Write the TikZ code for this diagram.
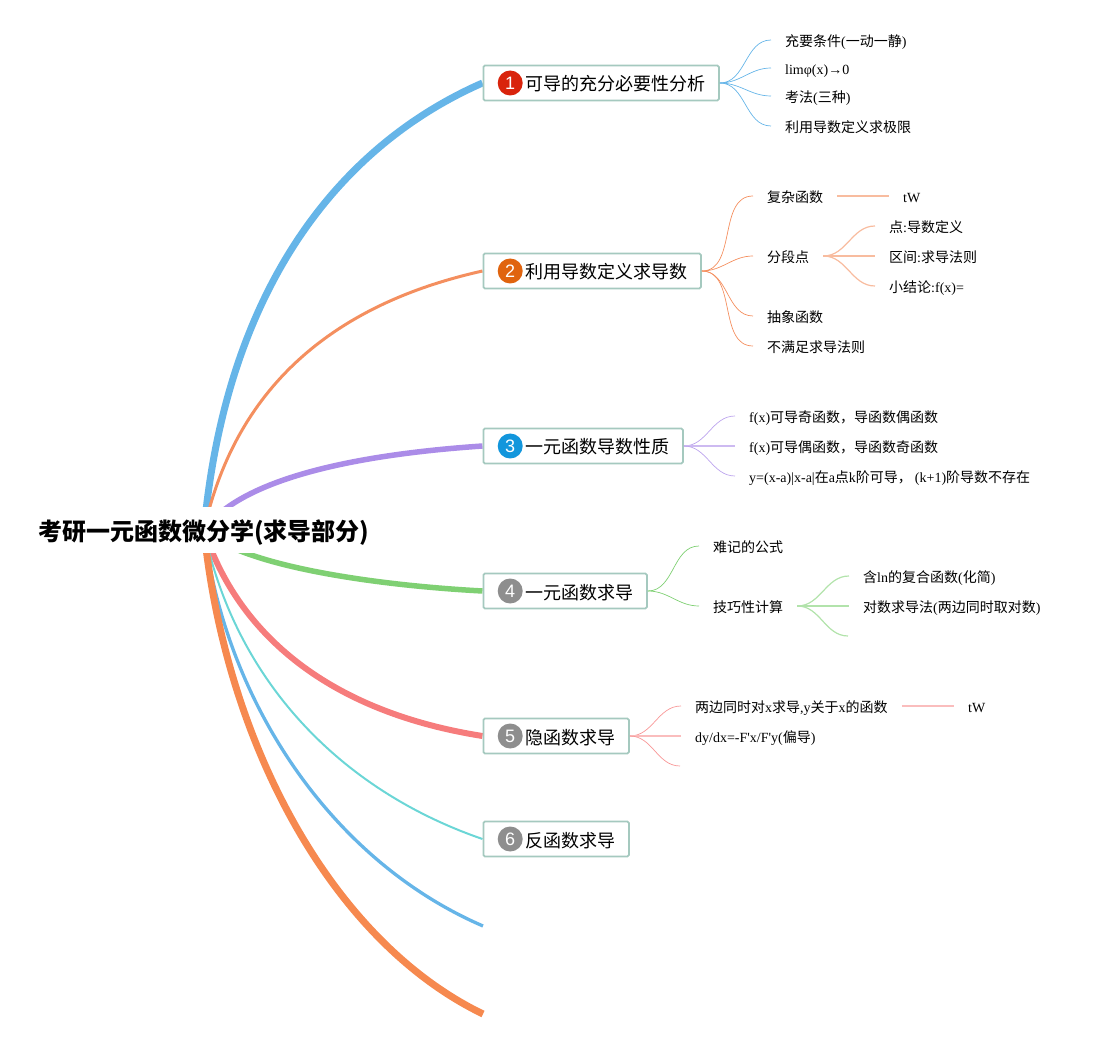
\documentclass[tikz,border=0pt]{standalone}
\usepackage{fontspec}
\setmainfont{Noto Sans CJK SC}
\newfontfamily\tms{Liberation Serif}
\newfontfamily\hei{Liberation Sans}
\newcommand{\tm}[1]{{\tms #1}}
\usetikzlibrary{positioning,backgrounds}
\definecolor{boxline}{HTML}{A5C9BF}
\definecolor{cblue}{HTML}{66B5E8}
\definecolor{corange}{HTML}{F48F5F}
\definecolor{cdeep}{HTML}{F6894F}
\definecolor{cpurple}{HTML}{AB8CE8}
\definecolor{cgreen}{HTML}{7FD073}
\definecolor{cred}{HTML}{F67C7C}
\definecolor{cteal}{HTML}{6BD6D6}
\definecolor{bred}{HTML}{D9240C}
\definecolor{borange}{HTML}{E0640F}
\definecolor{bblue}{HTML}{1296DC}
\definecolor{bgray}{HTML}{8E8E8E}
\begin{document}
\begin{tikzpicture}[x=1pt,y=-1pt,
    root node/.style={fill=white,inner sep=0pt,minimum width=330pt,minimum height=45pt,text height=24pt,text depth=4pt,font=\fontsize{24}{28}\selectfont\bfseries},
    main node/.style={draw=boxline,line width=1.8pt,rounded corners=1.5pt,fill=white,anchor=west,inner sep=0pt,minimum height=35pt,text height=18pt,text depth=2pt,font=\fontsize{18}{22}\selectfont},
    badge/.style={circle,inner sep=0pt,minimum size=25pt,anchor=west,text=white,font=\hei\fontsize{18}{20}\selectfont},
    small node/.style={anchor=west,inner xsep=14pt,inner ysep=2pt,text height=15pt,text depth=2pt,font=\fontsize{14}{16}\selectfont}]
    \useasboundingbox (0,0) rectangle (1101,1040);

    \node[root node] (root) at (204,530) {考研一元函数微分学(求导部分)};

    \node[main node] (n1) at (482.5,83) {\kern42.5pt可导的充分必要性分析\kern13pt};
    \node[main node] (n2) at (482.5,271) {\kern42.5pt利用导数定义求导数\kern13pt};
    \node[main node] (n3) at (482.5,446) {\kern42.5pt一元函数导数性质\kern13pt};
    \node[main node] (n4) at (482.5,591) {\kern42.5pt一元函数求导\kern13pt};
    \node[main node] (n5) at (482.5,736) {\kern42.5pt隐函数求导\kern13pt};
    \node[main node] (n6) at (482.5,839) {\kern42.5pt反函数求导\kern13pt};
    \coordinate (n7) at (483,926);
    \coordinate (n8) at (483,1014);

    \node[badge,fill=bred,right=15pt of n1.west] (b1) {1};
    \node[badge,fill=borange,right=15pt of n2.west] (b2) {2};
    \node[badge,fill=bblue,right=15pt of n3.west] (b3) {3};
    \node[badge,fill=bgray,right=15pt of n4.west] (b4) {4};
    \node[badge,fill=bgray,right=15pt of n5.west] (b5) {5};
    \node[badge,fill=bgray,right=15pt of n6.west] (b6) {6};

    \begin{scope}[on background layer]
      \draw[cblue,line width=7pt] (root.center) .. controls (225,300) and (330,150) .. (n1.west);
      \draw[corange,line width=3pt] (root.center) .. controls (235,390) and (330,305) .. (n2.west);
      \draw[cpurple,line width=5.5pt] (root.center) .. controls (240,480) and (350,455) .. (n3.west);
      \draw[cgreen,line width=5.5pt] (root.center) .. controls (240,565) and (370,585) .. (n4.west);
      \draw[cred,line width=6pt] (root.center) .. controls (238,635) and (330,712) .. (n5.west);
      \draw[cteal,line width=2pt] (root.center) .. controls (235,680) and (340,790) .. (n6.west);
      \draw[cblue,line width=3.3pt] (root.center) .. controls (225,700) and (330,860) .. (n7);
      \draw[cdeep,line width=7pt] (root.center) .. controls (225,740) and (330,940) .. (n8);
    \end{scope}

    % first branch
    \node[small node] (a1) at (771,40) {充要条件\tm{(}一动一静\tm{)}};
    \node[small node] (a2) at (771,68) {\tm{limφ(x)\raisebox{-0.5pt}{\fontsize{14}{14}\selectfont →}0}};
    \node[small node] (a3) at (771,96) {考法\tm{(}三种\tm{)}};
    \node[small node] (a4) at (771,126) {利用导数定义求极限};
    \path[-,cblue,line width=0.7pt] (n1.east) edge[out=0,in=180] (a1.west);
    \path[-,cblue,line width=0.7pt] (n1.east) edge[out=0,in=180] (a2.west);
    \path[-,cblue,line width=0.7pt] (n1.east) edge[out=0,in=180] (a3.west);
    \path[-,cblue,line width=0.7pt] (n1.east) edge[out=0,in=180] (a4.west);

    % second branch
    \node[small node] (c1) at (753,196) {复杂函数};
    \node[small node] (c2) at (753,256) {分段点};
    \node[small node] (c3) at (753,316) {抽象函数};
    \node[small node] (c4) at (753,346) {不满足求导法则};
    \node[small node] (c5) at (889,196) {\tm{tW}};
    \node[small node] (c6) at (875,226) {点\tm{:}导数定义};
    \node[small node] (c7) at (875,256) {区间\tm{:}求导法则};
    \node[small node] (c8) at (875,286) {小结论\tm{:f(x)=}};
    \path[-,corange,line width=0.7pt] (n2.east) edge[out=0,in=180] (c1.west);
    \path[-,corange,line width=0.7pt] (n2.east) edge[out=0,in=180] (c2.west);
    \path[-,corange,line width=0.7pt] (n2.east) edge[out=0,in=180] (c3.west);
    \path[-,corange,line width=0.7pt] (n2.east) edge[out=0,in=180] (c4.west);
    \path[-,corange!60,line width=1.2pt] (c1.east) edge (c5.west);
    \path[-,corange!60,line width=1.2pt] (c2.east) edge[out=0,in=180] (c6.west);
    \path[-,corange!60,line width=1.2pt] (c2.east) edge (c7.west);
    \path[-,corange!60,line width=1.2pt] (c2.east) edge[out=0,in=180] (c8.west);

    % third branch
    \node[small node] (d1) at (735,416) {\tm{f(x)}可导奇函数，导函数偶函数};
    \node[small node] (d2) at (735,446) {\tm{f(x)}可导偶函数，导函数奇函数};
    \node[small node] (d3) at (735,476) {\tm{y=(x-a)|x-a|}在\tm{a}点\tm{k}阶可导，\kern3pt\tm{(k+1)}阶导数不存在};
    \path[-,cpurple!80,line width=0.7pt] (n3.east) edge[out=0,in=180] (d1.west);
    \path[-,cpurple!60,line width=1.1pt] (n3.east) edge (d2.west);
    \path[-,cpurple!80,line width=0.7pt] (n3.east) edge[out=0,in=180] (d3.west);

    % fourth branch
    \node[small node] (e1) at (699,546) {难记的公式};
    \node[small node] (e2) at (699,606) {技巧性计算};
    \node[small node] (e3) at (849,576) {含\tm{ln}的复合函数\tm{(}化简\tm{)}};
    \node[small node] (e4) at (849,606) {对数求导法\tm{(}两边同时取对数\tm{)}};
    \coordinate (e5) at (848,636);
    \path[-,cgreen,line width=0.7pt] (n4.east) edge[out=0,in=180] (e1.west);
    \path[-,cgreen,line width=0.7pt] (n4.east) edge[out=0,in=180] (e2.west);
    \path[-,cgreen!60,line width=1.2pt] (e2.east) edge[out=0,in=180] (e3.west);
    \path[-,cgreen!60,line width=1.2pt] (e2.east) edge (e4.west);
    \path[-,cgreen!60,line width=1.2pt] (e2.east) edge[out=0,in=180] (e5);

    % fifth branch
    \node[small node] (f1) at (681,706) {两边同时对\tm{x}求导\tm{,y}关于\tm{x}的函数};
    \node[small node] (f2) at (681,736) {\tm{dy/dx=-F'x/F'y(}偏导\tm{)}};
    \node[small node] (f3) at (954,706) {\tm{tW}};
    \coordinate (f4) at (680,766);
    \path[-,cred!80,line width=0.7pt] (n5.east) edge[out=0,in=180] (f1.west);
    \path[-,cred!50,line width=1.2pt] (n5.east) edge (f2.west);
    \path[-,cred!80,line width=0.7pt] (n5.east) edge[out=0,in=180] (f4);
    \path[-,cred!50,line width=1.2pt] (f1.east) edge (f3.west);
  \end{tikzpicture}
\end{document}
